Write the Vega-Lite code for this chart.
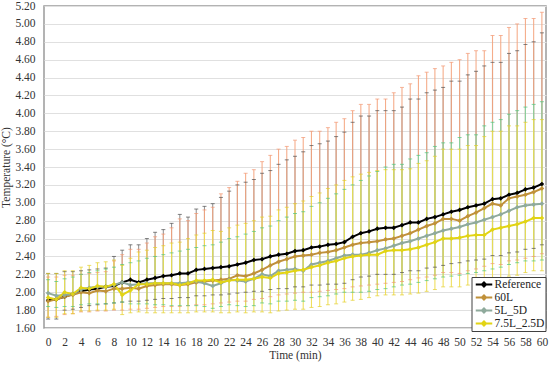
{
"$schema": "https://vega.github.io/schema/vega-lite/v6.json",
"width": 502, "height": 322,
"autosize": {"type": "none"},
"padding": {"left": 44, "top": 6, "right": 4, "bottom": 38},
"background": "white",
"config": {
  "font": "Liberation Serif",
  "view": {"stroke": "#9a9a9a", "strokeWidth": 1.5},
  "axis": {"labelColor": "#333333", "titleColor": "#333333", "labelFontSize": 11.5, "titleFontSize": 11.5, "titleFontWeight": "normal", "labelFont": "Liberation Serif", "titleFont": "Liberation Serif", "labelOverlap": false},
  "axisY": {"ticks": false, "domain": false, "grid": true, "gridColor": "#e0e0e0", "labelPadding": 9, "titlePadding": 3, "labelOverlap": false}
},
"data": {"values": [
{"t":0,"s":"Reference","m":1.91,"l":1.70,"h":2.21},
{"t":1,"s":"Reference","m":1.92,"l":1.70,"h":2.21},
{"t":2,"s":"Reference","m":1.95,"l":1.80,"h":2.23},
{"t":3,"s":"Reference","m":1.98,"l":1.81,"h":2.23},
{"t":4,"s":"Reference","m":2.01,"l":1.83,"h":2.24},
{"t":5,"s":"Reference","m":2.03,"l":1.85,"h":2.25},
{"t":6,"s":"Reference","m":2.04,"l":1.86,"h":2.26},
{"t":7,"s":"Reference","m":2.06,"l":1.87,"h":2.27},
{"t":8,"s":"Reference","m":2.07,"l":1.88,"h":2.40},
{"t":9,"s":"Reference","m":2.11,"l":1.89,"h":2.47},
{"t":10,"s":"Reference","m":2.14,"l":1.90,"h":2.53},
{"t":11,"s":"Reference","m":2.11,"l":1.90,"h":2.53},
{"t":12,"s":"Reference","m":2.14,"l":1.91,"h":2.60},
{"t":13,"s":"Reference","m":2.16,"l":1.92,"h":2.67},
{"t":14,"s":"Reference","m":2.18,"l":1.93,"h":2.70},
{"t":15,"s":"Reference","m":2.19,"l":1.93,"h":2.77},
{"t":16,"s":"Reference","m":2.21,"l":1.94,"h":2.87},
{"t":17,"s":"Reference","m":2.21,"l":1.94,"h":2.84},
{"t":18,"s":"Reference","m":2.25,"l":1.96,"h":2.93},
{"t":19,"s":"Reference","m":2.26,"l":1.96,"h":2.96},
{"t":20,"s":"Reference","m":2.27,"l":1.97,"h":2.99},
{"t":21,"s":"Reference","m":2.28,"l":1.97,"h":3.06},
{"t":22,"s":"Reference","m":2.29,"l":1.98,"h":3.13},
{"t":23,"s":"Reference","m":2.31,"l":1.99,"h":3.20},
{"t":24,"s":"Reference","m":2.33,"l":2.00,"h":3.23},
{"t":25,"s":"Reference","m":2.36,"l":2.01,"h":3.26},
{"t":26,"s":"Reference","m":2.37,"l":2.01,"h":3.33},
{"t":27,"s":"Reference","m":2.40,"l":2.03,"h":3.36},
{"t":28,"s":"Reference","m":2.42,"l":2.04,"h":3.43},
{"t":29,"s":"Reference","m":2.43,"l":2.04,"h":3.48},
{"t":30,"s":"Reference","m":2.46,"l":2.06,"h":3.52},
{"t":31,"s":"Reference","m":2.47,"l":2.06,"h":3.57},
{"t":32,"s":"Reference","m":2.50,"l":2.08,"h":3.64},
{"t":33,"s":"Reference","m":2.51,"l":2.08,"h":3.66},
{"t":34,"s":"Reference","m":2.53,"l":2.09,"h":3.69},
{"t":35,"s":"Reference","m":2.54,"l":2.09,"h":3.74},
{"t":36,"s":"Reference","m":2.56,"l":2.10,"h":3.79},
{"t":37,"s":"Reference","m":2.62,"l":2.14,"h":3.90},
{"t":38,"s":"Reference","m":2.66,"l":2.17,"h":3.97},
{"t":39,"s":"Reference","m":2.68,"l":2.18,"h":3.97},
{"t":40,"s":"Reference","m":2.71,"l":2.20,"h":4.03},
{"t":41,"s":"Reference","m":2.72,"l":2.20,"h":4.03},
{"t":42,"s":"Reference","m":2.72,"l":2.20,"h":4.03},
{"t":43,"s":"Reference","m":2.75,"l":2.22,"h":4.07},
{"t":44,"s":"Reference","m":2.78,"l":2.24,"h":4.16},
{"t":45,"s":"Reference","m":2.78,"l":2.24,"h":4.16},
{"t":46,"s":"Reference","m":2.82,"l":2.27,"h":4.23},
{"t":47,"s":"Reference","m":2.84,"l":2.28,"h":4.26},
{"t":48,"s":"Reference","m":2.87,"l":2.30,"h":4.29},
{"t":49,"s":"Reference","m":2.90,"l":2.32,"h":4.36},
{"t":50,"s":"Reference","m":2.92,"l":2.33,"h":4.36},
{"t":51,"s":"Reference","m":2.95,"l":2.35,"h":4.43},
{"t":52,"s":"Reference","m":2.97,"l":2.36,"h":4.47},
{"t":53,"s":"Reference","m":2.99,"l":2.37,"h":4.53},
{"t":54,"s":"Reference","m":3.04,"l":2.41,"h":4.57},
{"t":55,"s":"Reference","m":3.05,"l":2.41,"h":4.57},
{"t":56,"s":"Reference","m":3.09,"l":2.44,"h":4.67},
{"t":57,"s":"Reference","m":3.11,"l":2.45,"h":4.70},
{"t":58,"s":"Reference","m":3.15,"l":2.48,"h":4.77},
{"t":59,"s":"Reference","m":3.17,"l":2.49,"h":4.80},
{"t":60,"s":"Reference","m":3.21,"l":2.53,"h":4.90},
{"t":0,"s":"60L","m":1.90,"l":1.72,"h":2.17},
{"t":1,"s":"60L","m":1.92,"l":1.73,"h":2.17},
{"t":2,"s":"60L","m":1.95,"l":1.75,"h":2.19},
{"t":3,"s":"60L","m":1.97,"l":1.76,"h":2.19},
{"t":4,"s":"60L","m":2.00,"l":1.78,"h":2.20},
{"t":5,"s":"60L","m":1.99,"l":1.78,"h":2.21},
{"t":6,"s":"60L","m":2.02,"l":1.79,"h":2.22},
{"t":7,"s":"60L","m":2.01,"l":1.79,"h":2.23},
{"t":8,"s":"60L","m":2.04,"l":1.80,"h":2.35},
{"t":9,"s":"60L","m":2.04,"l":1.80,"h":2.42},
{"t":10,"s":"60L","m":2.05,"l":1.81,"h":2.48},
{"t":11,"s":"60L","m":2.04,"l":1.81,"h":2.48},
{"t":12,"s":"60L","m":2.07,"l":1.82,"h":2.55},
{"t":13,"s":"60L","m":2.08,"l":1.83,"h":2.62},
{"t":14,"s":"60L","m":2.09,"l":1.84,"h":2.65},
{"t":15,"s":"60L","m":2.09,"l":1.84,"h":2.72},
{"t":16,"s":"60L","m":2.08,"l":1.84,"h":2.82},
{"t":17,"s":"60L","m":2.09,"l":1.85,"h":2.80},
{"t":18,"s":"60L","m":2.11,"l":1.86,"h":2.88},
{"t":19,"s":"60L","m":2.12,"l":1.86,"h":2.92},
{"t":20,"s":"60L","m":2.13,"l":1.87,"h":2.95},
{"t":21,"s":"60L","m":2.14,"l":1.88,"h":3.10},
{"t":22,"s":"60L","m":2.15,"l":1.89,"h":3.17},
{"t":23,"s":"60L","m":2.19,"l":1.90,"h":3.24},
{"t":24,"s":"60L","m":2.18,"l":1.90,"h":3.33},
{"t":25,"s":"60L","m":2.21,"l":1.92,"h":3.37},
{"t":26,"s":"60L","m":2.25,"l":1.93,"h":3.46},
{"t":27,"s":"60L","m":2.30,"l":1.95,"h":3.53},
{"t":28,"s":"60L","m":2.34,"l":1.97,"h":3.60},
{"t":29,"s":"60L","m":2.37,"l":1.98,"h":3.63},
{"t":30,"s":"60L","m":2.40,"l":1.99,"h":3.70},
{"t":31,"s":"60L","m":2.41,"l":2.00,"h":3.73},
{"t":32,"s":"60L","m":2.42,"l":2.00,"h":3.80},
{"t":33,"s":"60L","m":2.44,"l":2.01,"h":3.80},
{"t":34,"s":"60L","m":2.45,"l":2.02,"h":3.84},
{"t":35,"s":"60L","m":2.47,"l":2.03,"h":3.90},
{"t":36,"s":"60L","m":2.50,"l":2.04,"h":3.94},
{"t":37,"s":"60L","m":2.53,"l":2.06,"h":4.03},
{"t":38,"s":"60L","m":2.55,"l":2.07,"h":4.10},
{"t":39,"s":"60L","m":2.56,"l":2.08,"h":4.10},
{"t":40,"s":"60L","m":2.57,"l":2.09,"h":4.16},
{"t":41,"s":"60L","m":2.59,"l":2.10,"h":4.16},
{"t":42,"s":"60L","m":2.60,"l":2.11,"h":4.23},
{"t":43,"s":"60L","m":2.63,"l":2.12,"h":4.29},
{"t":44,"s":"60L","m":2.66,"l":2.14,"h":4.33},
{"t":45,"s":"60L","m":2.70,"l":2.16,"h":4.42},
{"t":46,"s":"60L","m":2.74,"l":2.17,"h":4.46},
{"t":47,"s":"60L","m":2.77,"l":2.19,"h":4.50},
{"t":48,"s":"60L","m":2.82,"l":2.22,"h":4.53},
{"t":49,"s":"60L","m":2.82,"l":2.22,"h":4.57},
{"t":50,"s":"60L","m":2.80,"l":2.21,"h":4.60},
{"t":51,"s":"60L","m":2.85,"l":2.24,"h":4.67},
{"t":52,"s":"60L","m":2.89,"l":2.26,"h":4.70},
{"t":53,"s":"60L","m":2.94,"l":2.29,"h":4.70},
{"t":54,"s":"60L","m":2.99,"l":2.32,"h":4.87},
{"t":55,"s":"60L","m":2.97,"l":2.31,"h":4.87},
{"t":56,"s":"60L","m":3.05,"l":2.35,"h":4.96},
{"t":57,"s":"60L","m":3.07,"l":2.36,"h":5.00},
{"t":58,"s":"60L","m":3.09,"l":2.38,"h":5.06},
{"t":59,"s":"60L","m":3.12,"l":2.40,"h":5.06},
{"t":60,"s":"60L","m":3.16,"l":2.43,"h":5.13},
{"t":0,"s":"5L_5D","m":1.99,"l":1.84,"h":2.14},
{"t":1,"s":"5L_5D","m":1.96,"l":1.83,"h":2.12},
{"t":2,"s":"5L_5D","m":1.97,"l":1.84,"h":2.15},
{"t":3,"s":"5L_5D","m":1.98,"l":1.84,"h":2.17},
{"t":4,"s":"5L_5D","m":2.03,"l":1.86,"h":2.20},
{"t":5,"s":"5L_5D","m":2.05,"l":1.87,"h":2.22},
{"t":6,"s":"5L_5D","m":2.06,"l":1.87,"h":2.24},
{"t":7,"s":"5L_5D","m":2.06,"l":1.87,"h":2.26},
{"t":8,"s":"5L_5D","m":2.08,"l":1.88,"h":2.28},
{"t":9,"s":"5L_5D","m":2.11,"l":1.89,"h":2.31},
{"t":10,"s":"5L_5D","m":2.08,"l":1.87,"h":2.33},
{"t":11,"s":"5L_5D","m":2.09,"l":1.87,"h":2.35},
{"t":12,"s":"5L_5D","m":2.10,"l":1.87,"h":2.38},
{"t":13,"s":"5L_5D","m":2.10,"l":1.86,"h":2.40},
{"t":14,"s":"5L_5D","m":2.10,"l":1.86,"h":2.42},
{"t":15,"s":"5L_5D","m":2.10,"l":1.85,"h":2.44},
{"t":16,"s":"5L_5D","m":2.10,"l":1.85,"h":2.46},
{"t":17,"s":"5L_5D","m":2.11,"l":1.85,"h":2.48},
{"t":18,"s":"5L_5D","m":2.12,"l":1.85,"h":2.50},
{"t":19,"s":"5L_5D","m":2.10,"l":1.84,"h":2.52},
{"t":20,"s":"5L_5D","m":2.07,"l":1.82,"h":2.53},
{"t":21,"s":"5L_5D","m":2.10,"l":1.84,"h":2.56},
{"t":22,"s":"5L_5D","m":2.14,"l":1.86,"h":2.60},
{"t":23,"s":"5L_5D","m":2.13,"l":1.85,"h":2.62},
{"t":24,"s":"5L_5D","m":2.12,"l":1.84,"h":2.65},
{"t":25,"s":"5L_5D","m":2.15,"l":1.85,"h":2.68},
{"t":26,"s":"5L_5D","m":2.20,"l":1.88,"h":2.72},
{"t":27,"s":"5L_5D","m":2.18,"l":1.87,"h":2.74},
{"t":28,"s":"5L_5D","m":2.24,"l":1.90,"h":2.80},
{"t":29,"s":"5L_5D","m":2.25,"l":1.90,"h":2.84},
{"t":30,"s":"5L_5D","m":2.26,"l":1.91,"h":2.88},
{"t":31,"s":"5L_5D","m":2.24,"l":1.90,"h":2.90},
{"t":32,"s":"5L_5D","m":2.31,"l":1.94,"h":2.96},
{"t":33,"s":"5L_5D","m":2.33,"l":1.95,"h":3.00},
{"t":34,"s":"5L_5D","m":2.35,"l":1.96,"h":3.05},
{"t":35,"s":"5L_5D","m":2.38,"l":1.98,"h":3.10},
{"t":36,"s":"5L_5D","m":2.41,"l":2.00,"h":3.15},
{"t":37,"s":"5L_5D","m":2.42,"l":2.00,"h":3.20},
{"t":38,"s":"5L_5D","m":2.42,"l":2.00,"h":3.25},
{"t":39,"s":"5L_5D","m":2.44,"l":2.01,"h":3.30},
{"t":40,"s":"5L_5D","m":2.47,"l":2.03,"h":3.35},
{"t":41,"s":"5L_5D","m":2.49,"l":2.04,"h":3.40},
{"t":42,"s":"5L_5D","m":2.52,"l":2.06,"h":3.43},
{"t":43,"s":"5L_5D","m":2.55,"l":2.08,"h":3.43},
{"t":44,"s":"5L_5D","m":2.57,"l":2.09,"h":3.49},
{"t":45,"s":"5L_5D","m":2.60,"l":2.11,"h":3.53},
{"t":46,"s":"5L_5D","m":2.63,"l":2.13,"h":3.56},
{"t":47,"s":"5L_5D","m":2.66,"l":2.15,"h":3.63},
{"t":48,"s":"5L_5D","m":2.69,"l":2.17,"h":3.67},
{"t":49,"s":"5L_5D","m":2.71,"l":2.18,"h":3.67},
{"t":50,"s":"5L_5D","m":2.73,"l":2.19,"h":3.73},
{"t":51,"s":"5L_5D","m":2.76,"l":2.21,"h":3.76},
{"t":52,"s":"5L_5D","m":2.78,"l":2.22,"h":3.76},
{"t":53,"s":"5L_5D","m":2.81,"l":2.24,"h":3.86},
{"t":54,"s":"5L_5D","m":2.84,"l":2.26,"h":3.90},
{"t":55,"s":"5L_5D","m":2.87,"l":2.28,"h":3.93},
{"t":56,"s":"5L_5D","m":2.91,"l":2.31,"h":3.99},
{"t":57,"s":"5L_5D","m":2.95,"l":2.33,"h":4.03},
{"t":58,"s":"5L_5D","m":2.97,"l":2.35,"h":4.07},
{"t":59,"s":"5L_5D","m":2.98,"l":2.35,"h":4.10},
{"t":60,"s":"5L_5D","m":2.99,"l":2.36,"h":4.13},
{"t":0,"s":"7.5L_2.5D","m":1.94,"l":1.72,"h":2.21},
{"t":1,"s":"7.5L_2.5D","m":1.92,"l":1.72,"h":2.21},
{"t":2,"s":"7.5L_2.5D","m":2.00,"l":1.76,"h":2.24},
{"t":3,"s":"7.5L_2.5D","m":1.98,"l":1.76,"h":2.24},
{"t":4,"s":"7.5L_2.5D","m":2.05,"l":1.79,"h":2.28},
{"t":5,"s":"7.5L_2.5D","m":2.04,"l":1.79,"h":2.30},
{"t":6,"s":"7.5L_2.5D","m":2.07,"l":1.80,"h":2.33},
{"t":7,"s":"7.5L_2.5D","m":2.06,"l":1.80,"h":2.34},
{"t":8,"s":"7.5L_2.5D","m":2.09,"l":1.81,"h":2.36},
{"t":9,"s":"7.5L_2.5D","m":1.97,"l":1.75,"h":2.30},
{"t":10,"s":"7.5L_2.5D","m":2.02,"l":1.77,"h":2.38},
{"t":11,"s":"7.5L_2.5D","m":2.09,"l":1.78,"h":2.45},
{"t":12,"s":"7.5L_2.5D","m":2.09,"l":1.77,"h":2.47},
{"t":13,"s":"7.5L_2.5D","m":2.10,"l":1.77,"h":2.50},
{"t":14,"s":"7.5L_2.5D","m":2.10,"l":1.77,"h":2.52},
{"t":15,"s":"7.5L_2.5D","m":2.10,"l":1.77,"h":2.55},
{"t":16,"s":"7.5L_2.5D","m":2.08,"l":1.77,"h":2.56},
{"t":17,"s":"7.5L_2.5D","m":2.10,"l":1.77,"h":2.60},
{"t":18,"s":"7.5L_2.5D","m":2.13,"l":1.78,"h":2.64},
{"t":19,"s":"7.5L_2.5D","m":2.13,"l":1.78,"h":2.66},
{"t":20,"s":"7.5L_2.5D","m":2.14,"l":1.78,"h":2.69},
{"t":21,"s":"7.5L_2.5D","m":2.11,"l":1.77,"h":2.68},
{"t":22,"s":"7.5L_2.5D","m":2.13,"l":1.77,"h":2.72},
{"t":23,"s":"7.5L_2.5D","m":2.14,"l":1.78,"h":2.75},
{"t":24,"s":"7.5L_2.5D","m":2.14,"l":1.77,"h":2.77},
{"t":25,"s":"7.5L_2.5D","m":2.15,"l":1.78,"h":2.80},
{"t":26,"s":"7.5L_2.5D","m":2.17,"l":1.78,"h":2.84},
{"t":27,"s":"7.5L_2.5D","m":2.16,"l":1.77,"h":2.85},
{"t":28,"s":"7.5L_2.5D","m":2.21,"l":1.79,"h":2.92},
{"t":29,"s":"7.5L_2.5D","m":2.22,"l":1.80,"h":2.95},
{"t":30,"s":"7.5L_2.5D","m":2.24,"l":1.81,"h":2.99},
{"t":31,"s":"7.5L_2.5D","m":2.25,"l":1.81,"h":3.02},
{"t":32,"s":"7.5L_2.5D","m":2.28,"l":1.83,"h":3.07},
{"t":33,"s":"7.5L_2.5D","m":2.30,"l":1.84,"h":3.11},
{"t":34,"s":"7.5L_2.5D","m":2.33,"l":1.86,"h":3.16},
{"t":35,"s":"7.5L_2.5D","m":2.35,"l":1.87,"h":3.20},
{"t":36,"s":"7.5L_2.5D","m":2.38,"l":1.89,"h":3.25},
{"t":37,"s":"7.5L_2.5D","m":2.40,"l":1.91,"h":3.29},
{"t":38,"s":"7.5L_2.5D","m":2.41,"l":1.92,"h":3.32},
{"t":39,"s":"7.5L_2.5D","m":2.42,"l":1.94,"h":3.34},
{"t":40,"s":"7.5L_2.5D","m":2.42,"l":1.96,"h":3.36},
{"t":41,"s":"7.5L_2.5D","m":2.46,"l":1.97,"h":3.37},
{"t":42,"s":"7.5L_2.5D","m":2.47,"l":1.97,"h":3.37},
{"t":43,"s":"7.5L_2.5D","m":2.47,"l":1.97,"h":3.37},
{"t":44,"s":"7.5L_2.5D","m":2.48,"l":1.98,"h":3.38},
{"t":45,"s":"7.5L_2.5D","m":2.50,"l":1.99,"h":3.44},
{"t":46,"s":"7.5L_2.5D","m":2.53,"l":2.01,"h":3.47},
{"t":47,"s":"7.5L_2.5D","m":2.56,"l":2.03,"h":3.52},
{"t":48,"s":"7.5L_2.5D","m":2.60,"l":2.06,"h":3.60},
{"t":49,"s":"7.5L_2.5D","m":2.60,"l":2.06,"h":3.60},
{"t":50,"s":"7.5L_2.5D","m":2.61,"l":2.06,"h":3.60},
{"t":51,"s":"7.5L_2.5D","m":2.63,"l":2.08,"h":3.64},
{"t":52,"s":"7.5L_2.5D","m":2.64,"l":2.09,"h":3.64},
{"t":53,"s":"7.5L_2.5D","m":2.64,"l":2.10,"h":3.74},
{"t":54,"s":"7.5L_2.5D","m":2.70,"l":2.14,"h":3.80},
{"t":55,"s":"7.5L_2.5D","m":2.72,"l":2.16,"h":3.80},
{"t":56,"s":"7.5L_2.5D","m":2.74,"l":2.18,"h":3.86},
{"t":57,"s":"7.5L_2.5D","m":2.76,"l":2.19,"h":3.86},
{"t":58,"s":"7.5L_2.5D","m":2.79,"l":2.22,"h":3.90},
{"t":59,"s":"7.5L_2.5D","m":2.83,"l":2.24,"h":3.93},
{"t":60,"s":"7.5L_2.5D","m":2.83,"l":2.24,"h":3.93}
]},
"encoding": {
  "x": {"field": "t", "type": "quantitative",
        "scale": {"domain": [-0.5, 60.5], "nice": false, "zero": false},
        "axis": {"values": [0,2,4,6,8,10,12,14,16,18,20,22,24,26,28,30,32,34,36,38,40,42,44,46,48,50,52,54,56,58,60],
                 "format": "d", "title": "Time (min)", "ticks": false, "domain": false, "grid": false,
                 "labelOverlap": false, "labelPadding": 8, "titlePadding": 2}}
},
"layer": [
  {"mark": {"type": "rule", "strokeWidth": 1.1, "opacity": 0.9},
   "encoding": {
     "y": {"field": "l", "type": "quantitative",
           "scale": {"domain": [1.6, 5.2], "nice": false, "zero": false},
           "axis": {"title": "Temperature (°C)", "format": ".2f", "values": [1.6,1.8,2.0,2.2,2.4,2.6,2.8,3.0,3.2,3.4,3.6,3.8,4.0,4.2,4.4,4.6,4.8,5.0,5.2]}},
     "y2": {"field": "h"},
     "color": {"field": "s", "type": "nominal", "legend": null,
               "scale": {"domain": ["Reference","60L","5L_5D","7.5L_2.5D"], "range": ["#8c8c8c","#f4a47e","#7fd69e","#eedc4e"]}}
   }},
  {"mark": {"type": "tick", "orient": "horizontal", "size": 4, "thickness": 1},
   "encoding": {
     "y": {"field": "h", "type": "quantitative", "axis": {"title": "Temperature (°C)", "format": ".2f", "values": [1.6,1.8,2.0,2.2,2.4,2.6,2.8,3.0,3.2,3.4,3.6,3.8,4.0,4.2,4.4,4.6,4.8,5.0,5.2]}},
     "color": {"field": "s", "type": "nominal", "legend": null,
               "scale": {"domain": ["Reference","60L","5L_5D","7.5L_2.5D"], "range": ["#4d4d4d","#f29670","#4cc47c","#e2cf2a"]}}
   }},
  {"mark": {"type": "tick", "orient": "horizontal", "size": 4, "thickness": 1},
   "encoding": {
     "y": {"field": "l", "type": "quantitative", "axis": {"title": "Temperature (°C)", "format": ".2f", "values": [1.6,1.8,2.0,2.2,2.4,2.6,2.8,3.0,3.2,3.4,3.6,3.8,4.0,4.2,4.4,4.6,4.8,5.0,5.2]}},
     "color": {"field": "s", "type": "nominal", "legend": null,
               "scale": {"domain": ["Reference","60L","5L_5D","7.5L_2.5D"], "range": ["#4d4d4d","#f29670","#4cc47c","#e2cf2a"]}}
   }},
  {"mark": {"type": "line", "strokeWidth": 2, "point": {"shape": "diamond", "size": 22, "filled": true}},
   "encoding": {
     "y": {"field": "m", "type": "quantitative", "axis": {"title": "Temperature (°C)", "format": ".2f", "values": [1.6,1.8,2.0,2.2,2.4,2.6,2.8,3.0,3.2,3.4,3.6,3.8,4.0,4.2,4.4,4.6,4.8,5.0,5.2]}},
     "color": {"field": "s", "type": "nominal",
               "scale": {"domain": ["Reference","60L","5L_5D","7.5L_2.5D"], "range": ["#000000","#c0913a","#8faa9c","#e2d415"]},
               "legend": {"title": null, "orient": "none", "legendX": 427.5, "legendY": 271,
                          "strokeColor": "#404040", "fillColor": "white", "padding": 1,
                          "labelFont": "Liberation Serif", "labelFontSize": 11.5, "labelColor": "#222222",
                          "symbolType": "M-1.5,0H1.5M-0.38,0L0,-0.38L0.38,0L0,0.38Z", "symbolSize": 121, "symbolStrokeWidth": 2,
                          "symbolOffset": 5, "rowPadding": 0, "labelOffset": 4}}
   }}
],
"resolve": {"scale": {"color": "independent"}}
}
